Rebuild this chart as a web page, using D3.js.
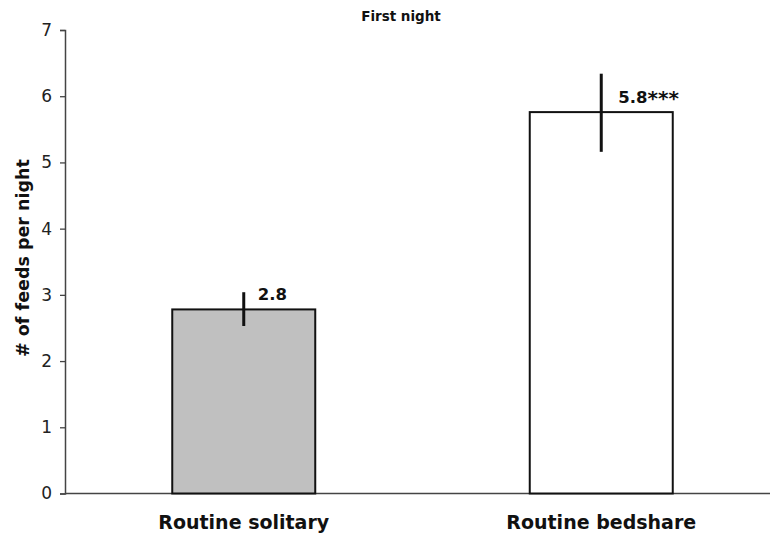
<!DOCTYPE html>
<html>
<head>
<meta charset="utf-8">
<script src="https://cdn.jsdelivr.net/npm/d3@7"></script>
<style>
  html, body { margin: 0; padding: 0; background: #fff; }
  svg { display: block; }
  text { font-family: "DejaVu Sans", Verdana, sans-serif; }
</style>
</head>
<body>
<svg id="chart" width="770" height="537"></svg>
<script>
// Feeds per night on the first night, by sleeping arrangement
const categories = ["Routine solitary", "Routine bedshare"];
const means = [2.78, 5.76];
const errLow = [2.53, 5.16];
const errHigh = [3.04, 6.34];
const valueLabels = ["2.8", "5.8"];
const significance = ["", "***"];
const fills = ["#c0c0c0", "#ffffff"];
const yTicks = [0, 1, 2, 3, 4, 5, 6, 7];

const svg = d3.select("#chart");
const x0 = 65, x1 = 780, yBottom = 493.5, yTop = 30;

const x = d3.scaleBand()
  .domain(categories)
  .range([x0, x1])
  .paddingInner(0.6)
  .paddingOuter(0.3);

const y = d3.scaleLinear().domain([0, 7]).range([yBottom, yTop]);

// Y axis
const yAxis = svg.append("g")
  .attr("transform", `translate(${x0},0)`)
  .call(d3.axisLeft(y).tickValues(yTicks).tickFormat(d3.format("d")).tickSizeOuter(0).tickSize(5).tickPadding(8));
yAxis.select(".domain").attr("stroke", "#444").attr("stroke-width", 1.5);
yAxis.selectAll(".tick line").attr("stroke", "#444").attr("stroke-width", 1.3);
yAxis.selectAll(".tick text")
  .attr("font-size", 17)
  .attr("fill", "#222")
  .style("font-family", "'DejaVu Sans', Verdana, sans-serif");

// X axis baseline
svg.append("line")
  .attr("x1", x0).attr("x2", 770)
  .attr("y1", y(0)).attr("y2", y(0))
  .attr("stroke", "#444").attr("stroke-width", 1.5);

// Bars
svg.selectAll("rect.bar")
  .data(categories)
  .join("rect")
  .attr("class", "bar")
  .attr("x", d => x(d))
  .attr("width", x.bandwidth())
  .attr("y", (d, i) => y(means[i]))
  .attr("height", (d, i) => y(0) - y(means[i]))
  .attr("fill", (d, i) => fills[i])
  .attr("stroke", "#111")
  .attr("stroke-width", 2);

// Error bars
svg.selectAll("line.err")
  .data(categories)
  .join("line")
  .attr("class", "err")
  .attr("x1", d => x(d) + x.bandwidth() / 2)
  .attr("x2", d => x(d) + x.bandwidth() / 2)
  .attr("y1", (d, i) => y(errHigh[i]))
  .attr("y2", (d, i) => y(errLow[i]))
  .attr("stroke", "#111")
  .attr("stroke-width", 3);

// Value labels with significance stars
const vals = svg.selectAll("text.val")
  .data(categories)
  .join("text")
  .attr("class", "val")
  .attr("x", (d, i) => x(d) + x.bandwidth() / 2 + (i === 0 ? 14 : 17))
  .attr("y", (d, i) => y(means[i]) - 9)
  .attr("font-size", 16.5)
  .attr("font-weight", "bold")
  .attr("fill", "#111");
vals.append("tspan").text((d, i) => valueLabels[i]);
vals.append("tspan")
  .attr("font-size", 20)
  .attr("dy", 2)
  .text((d, i) => significance[i]);

// Category labels
svg.selectAll("text.cat")
  .data(categories)
  .join("text")
  .attr("class", "cat")
  .attr("x", d => x(d) + x.bandwidth() / 2)
  .attr("y", 529)
  .attr("text-anchor", "middle")
  .attr("font-size", 19)
  .attr("font-weight", "bold")
  .attr("fill", "#111")
  .text(d => d);

// Y axis title
svg.append("text")
  .attr("transform", "translate(29,258) rotate(-90)")
  .attr("text-anchor", "middle")
  .attr("font-size", 17.5)
  .attr("font-weight", "bold")
  .attr("fill", "#111")
  .text("# of feeds per night");

// Chart title
svg.append("text")
  .attr("x", 401)
  .attr("y", 21)
  .attr("text-anchor", "middle")
  .attr("font-size", 13.5)
  .attr("font-weight", "bold")
  .attr("fill", "#111")
  .text("First night");
</script>
</body>
</html>
